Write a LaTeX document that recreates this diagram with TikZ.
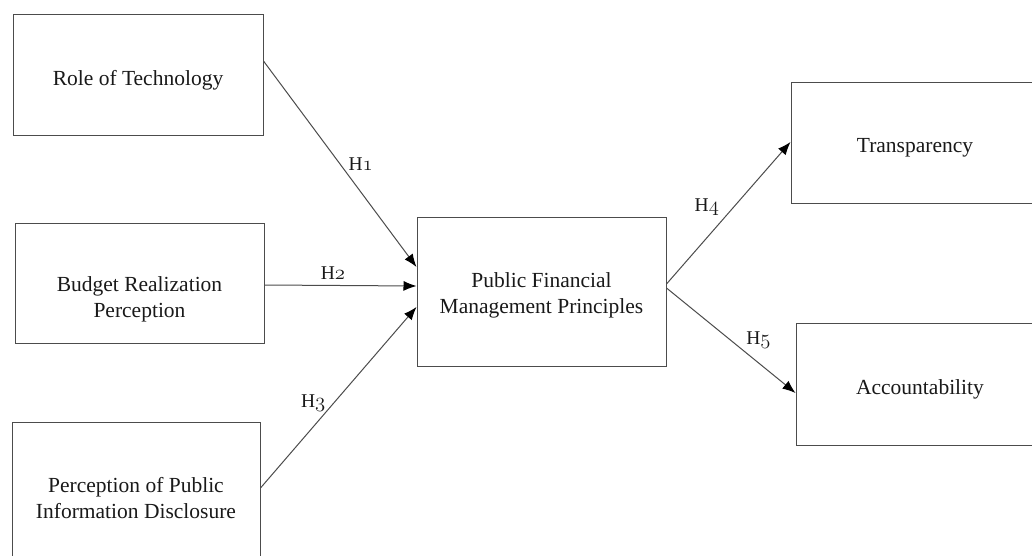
\documentclass[tikz,border=0pt]{standalone}
\usepackage{fontspec}
\setmainfont{Liberation Serif}
\usepackage{tikz}
\usetikzlibrary{positioning, arrows.meta}

% old style digits for the hypothesis labels
\newcommand{\hnum}[1]{{\usefont{OML}{cmm}{m}{it}#1}}

\tikzset{
  box/.style={rectangle, draw=black!70, line width=1pt, inner sep=0pt},
  boxtext/.style={align=center, text=black!90, font=\fontsize{21.5}{26}\selectfont},
  link/.style={draw=black!70, line width=1pt, -{Latex[length=13pt, width=10pt, color=black]}},
  hyp/.style={font=\fontsize{19.5}{22}\selectfont, text=black!90, inner sep=2pt}
}

\begin{document}
\begin{tikzpicture}[x=1pt, y=-1pt]
      \clip (0, 0) rectangle (1032, 556);
      \fill[white] (0, 0) rectangle (1032, 556);

      \node[box, minimum width=250pt, minimum height=121pt,
        label={[boxtext, yshift=-5pt]center:Role of Technology}] (tech) at (138, 75.5) {};
      \node[box, minimum width=249pt, minimum height=120pt,
        label={[boxtext, yshift=-16pt]center:{Budget Realization\\Perception}}] (budget) at (139.5, 283) {};
      \node[box, minimum width=248pt, minimum height=150pt,
        label={[boxtext, yshift=-1pt]center:{Perception of Public\\Information Disclosure}}] (disclosure) at (136, 497) {};

      \node[box, minimum width=249pt, minimum height=149pt,
        label={[boxtext, yshift=-4pt]center:{Public Financial\\Management Principles}}] (pfm) at (541.5, 291.5) {};

      \node[box, minimum width=248pt, minimum height=120pt,
        label={[boxtext, yshift=-5pt]center:Transparency}] (transp) at (915, 143) {};
      \node[box, minimum width=248pt, minimum height=122pt,
        label={[boxtext, yshift=-5pt]center:Accountability}] (account) at (920, 384) {};

      \path ([yshift=14.5pt]tech.east) edge[link] node[hyp, pos=0.5, right, xshift=6pt] {H\hnum{1}} ([yshift=24.5pt]pfm.west);
      \path ([yshift=-2pt]budget.east) edge[link] node[hyp, pos=0.45, above=3pt] {H\hnum{2}} ([yshift=5.5pt]pfm.west);
      \path ([yshift=9pt]disclosure.east) edge[link] node[hyp, pos=0.47, left, xshift=-6pt] {H\hnum{3}} ([yshift=-15.5pt]pfm.west);
      \path ([yshift=7.5pt]pfm.east) edge[link] node[hyp, pos=0.54, left, xshift=-12pt] {H\hnum{4}} ([yshift=1pt]transp.west);
      \path ([yshift=3.5pt]pfm.east) edge[link] node[hyp, pos=0.6, above right] {H\hnum{5}} ([yshift=-9pt]account.west);
    \end{tikzpicture}
\end{document}
